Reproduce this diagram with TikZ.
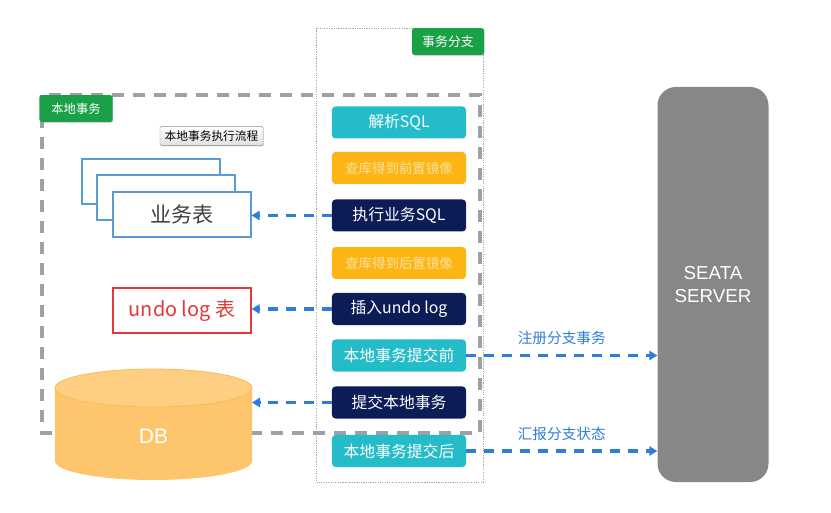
\documentclass[tikz,border=0pt]{standalone}
\usepackage{fontspec}
\setmainfont{Noto Sans CJK SC}
\newfontfamily\latinsans{Liberation Sans}
\usetikzlibrary{arrows.meta,positioning,shadows}
\definecolor{tealbg}{RGB}{35,188,200}
\definecolor{orangebg}{RGB}{253,181,21}
\definecolor{orangetext}{RGB}{250,226,160}
\definecolor{navybg}{RGB}{11,28,86}
\definecolor{taggreen}{RGB}{26,160,70}
\definecolor{flowblue}{RGB}{46,125,220}
\definecolor{localgray}{RGB}{158,160,168}
\definecolor{servergray}{RGB}{135,135,135}
\definecolor{dbfill}{RGB}{254,198,108}
\definecolor{dbedge}{RGB}{249,185,80}
\definecolor{undored}{RGB}{226,56,56}
\definecolor{tableblue}{RGB}{91,155,213}
\tikzset{
  stepbox/.style={
    rounded corners=3pt,minimum width=4.02cm,minimum height=0.96cm,
    inner sep=0pt,text=white,font=\fontsize{13.5}{15}\selectfont
  },
  tealbox/.style={stepbox,fill=tealbg},
  navybox/.style={stepbox,fill=navybg},
  orangebox/.style={stepbox,fill=orangebg,text=orangetext,font=\fontsize{11.5}{14}\selectfont},
  tagbox/.style={
    fill=taggreen,text=white,rounded corners=2pt,inner sep=0pt,
    drop shadow={opacity=0.35,shadow xshift=0.6pt,shadow yshift=-0.8pt}
  },
  tablebox/.style={draw=tableblue,line width=1.1pt,fill=white,minimum width=4.14cm,minimum height=1.35cm},
  flowarrow/.style={-{Triangle[length=2.4mm,width=2.8mm]},draw=flowblue,line width=2.8pt,
    dash pattern=on 3mm off 2.4mm},
  flowlabel/.style={text=flowblue,font=\fontsize{12.5}{14}\selectfont},
  localline/.style={draw=localgray,line width=2.8pt,dash pattern=on 3.6mm off 2.7mm},
  branchline/.style={draw=black!35,line width=0.6pt,dash pattern=on 1pt off 1pt}
}

\begin{document}
\begin{tikzpicture}[x=0.03cm,y=-0.03cm]
  \useasboundingbox (0,0) rectangle (831,513);

  % transaction branch and local transaction frames
  \draw[branchline] (316,28) rectangle (483,482);
  \draw[localline] (42,95) rectangle (480,433);
  \node[tagbox,minimum width=2.16cm,minimum height=0.8cm,font=\fontsize{11}{13}\selectfont]
    (branchtag) at (448,41.5) {事务分支};
  \node[tagbox,minimum width=2.2cm,minimum height=0.8cm,font=\fontsize{10.5}{12}\selectfont]
    (localtag) at (76,108.5) {本地事务};
  \node[draw=black!45,top color=white,bottom color=black!12,inner sep=0pt,rounded corners=1pt,
    minimum width=3.09cm,minimum height=0.56cm,font=\fontsize{10}{12}\selectfont,
    drop shadow={opacity=0.3,shadow xshift=0.8pt,shadow yshift=-0.8pt}]
    (flowtitle) at (211.5,136) {本地事务执行流程};

  % steps of the branch
  \node[tealbox] (parse) at (399,122.5) {解析SQL};
  \node[orangebox] (before) at (399,168) {查库得到前置镜像};
  \node[navybox] (exec) at (399,215.5) {执行业务SQL};
  \node[orangebox] (after) at (399,263) {查库得到后置镜像};
  \node[navybox] (undo) at (399,309) {插入undo log};
  \node[tealbox] (pre) at (399,355.5) {本地事务提交前};
  \node[navybox] (commit) at (399,402.5) {提交本地事务};
  \node[tealbox] (post) at (399,451) {本地事务提交后};

  % business table
  \node[tablebox] (tab1) at (151,181.5) {};
  \node[tablebox] (tab2) at (166,197.5) {};
  \node[tablebox,text=black!75,font=\fontsize{18}{20}\selectfont] (tab3) at (182,214.5) {业务表};

  % undo log table
  \node[draw=undored,line width=1.1pt,fill=white,text=undored,minimum width=4.14cm,
    minimum height=1.35cm,font=\fontsize{17}{20}\selectfont] (undotab) at (182,310.5) {undo log 表};

  % DB
  \fill[dbfill] (55,461) arc[start angle=180,end angle=360,x radius=2.955cm,y radius=0.57cm]
    -- (252,388) arc[start angle=0,end angle=180,x radius=2.955cm,y radius=0.57cm] -- cycle;
  \filldraw[fill=dbfill!85!white,draw=dbedge,line width=0.6pt]
    (153.5,388) ellipse[x radius=2.955cm,y radius=0.57cm];
  \node[text=white,font=\latinsans\fontsize{18}{20}\selectfont] (db) at (153.5,436) {DB};
  \coordinate (dbin) at (252,402.5);

  % server
  \node[fill=servergray,rounded corners=0.55cm,minimum width=3.33cm,minimum height=11.85cm,
    align=center,text=white,font=\latinsans\fontsize{16}{19}\selectfont]
    (seata) at (713,284.5) {SEATA\\SERVER};

  % arrows
  \draw[flowarrow] (exec.west) -- (exec.west -| tab3.east);
  \draw[flowarrow] (undo.west) -- (undo.west -| undotab.east);
  \draw[flowarrow] (commit.west) -- (dbin);
  \draw[flowarrow] (pre.east) -- (pre.east -| seata.west)
    node[midway,above=1.5mm,flowlabel] {注册分支事务};
  \draw[flowarrow] (post.east) -- (post.east -| seata.west)
    node[midway,above=1.5mm,flowlabel] {汇报分支状态};
\end{tikzpicture}
\end{document}
